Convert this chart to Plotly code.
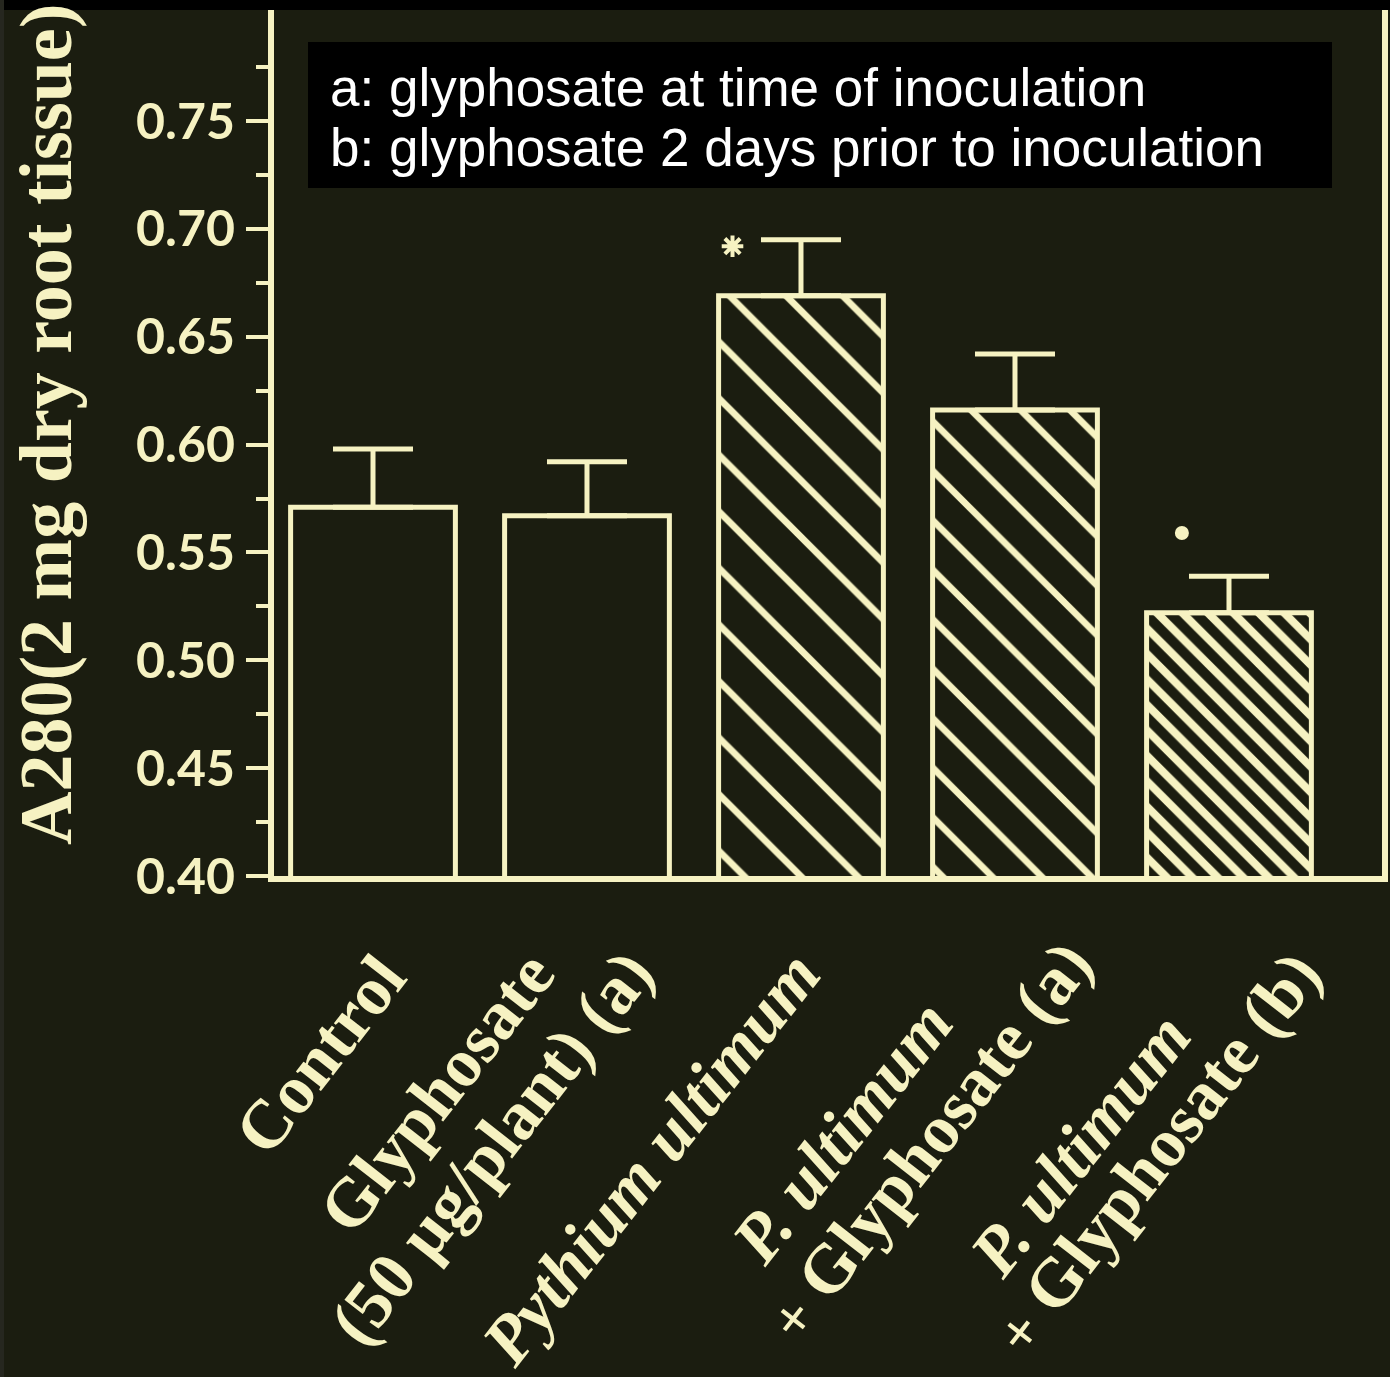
import numpy as np
import plotly.graph_objects as go

# Root exudate absorbance per treatment (mean and upper error)
categories = [
    "Control",
    "Glyphosate\n(50 µg/plant) (a)",
    "Pythium ultimum",
    "P. ultimum\n+ Glyphosate (a)",
    "P. ultimum\n+ Glyphosate (b)",
]
means = [0.571, 0.567, 0.669, 0.616, 0.522]
errors = [0.027, 0.025, 0.026, 0.026, 0.017]
hatches = ["", "", "\\", "\\", "\\"]
y_ticks = [0.40, 0.45, 0.50, 0.55, 0.60, 0.65, 0.70, 0.75]
legend_lines = [
    "a: glyphosate at time of inoculation",
    "b: glyphosate 2 days prior to inoculation",
]
star_bar = 2    # bar marked with an asterisk
dot_bar = 4     # bar marked with a dot

BG = "#1b1d10"
CREAM = "#f6f2c2"
SERIF = "Liberation Serif, Times New Roman, serif"

W, H = 1390, 1377
L, R, T, B = 274, 8, 10, 501
PW, PH = W - L - R, H - T - B

def px_x(p):
    return (p - L) / PW

def px_y(p):
    return (H - B - p) / PH

x = list(range(len(categories)))

# hatch density per bar
pattern_sizes = [8, 8, 40, 35, 18]
pattern_solid = [0.3, 0.3, 0.17, 0.19, 0.44]

fig = go.Figure()
for i in x:
    pat = dict(shape=hatches[i], fgcolor=CREAM, bgcolor=BG,
               size=pattern_sizes[i], solidity=pattern_solid[i],
               fillmode="replace")
    fig.add_trace(go.Bar(
        x=[i], y=[means[i]], width=0.77,
        marker=dict(color=BG, line=dict(color=CREAM, width=5), pattern=pat),
        error_y=dict(type="data", symmetric=False, array=[errors[i]],
                     arrayminus=[0], color=CREAM, thickness=5, width=40),
        showlegend=False,
    ))

# significance markers
fig.add_trace(go.Scatter(
    x=[star_bar - 0.32], y=[means[star_bar] + errors[star_bar] - 0.003],
    mode="markers",
    marker=dict(symbol="asterisk-open", size=18, color=CREAM,
                line=dict(color=CREAM, width=4)),
    showlegend=False, cliponaxis=False,
))
fig.add_trace(go.Scatter(
    x=[dot_bar - 0.22], y=[means[dot_bar] + errors[dot_bar] + 0.020],
    mode="markers",
    marker=dict(symbol="circle", size=14, color=CREAM),
    showlegend=False, cliponaxis=False,
))

# rotated category labels under the axis, one annotation per text line
# (offsets in px from the bar centre / axis line to each line's centre)
line_offsets = [
    [(-53, 179)],
    [(-150, 216), (-95, 271)],
    [(-150, 282)],
    [(-173, 256), (-86, 264)],
    [(-149, 269), (-72, 276)],
]
annotations = []
for i, lab in enumerate(categories):
    for line, (dx, dy) in zip(lab.split("\n"), line_offsets[i]):
        italic = "ultimum" in line
        if line.startswith("+ "):
            line = "<span style='font-size:60px'>+</span> " + line[2:]
        annotations.append(dict(
            x=i, y=0, xref="x", yref="paper", text=line, showarrow=False,
            xanchor="center", yanchor="middle", textangle=-52,
            xshift=dx, yshift=-dy,
            font=dict(family=SERIF, size=69, color=CREAM, weight="bold",
                      style="italic" if italic else "normal"),
        ))

# y-axis title
annotations.append(dict(
    x=px_x(46), y=px_y(425), xref="paper", yref="paper",
    text="A280(2 mg dry root tissue)", showarrow=False, textangle=-90,
    xanchor="center", yanchor="middle",
    font=dict(family=SERIF, size=74, color=CREAM, weight="bold"),
))

# key text in the black box
for j, line in enumerate(legend_lines):
    annotations.append(dict(
        x=px_x(328), y=px_y(87 + 60 * j), xref="paper", yref="paper",
        text=line, showarrow=False, xanchor="left", yanchor="middle",
        font=dict(family="Liberation Sans, Arial, sans-serif", size=53,
                  color="#ffffff"),
    ))

shapes = [
    dict(type="rect", xref="paper", yref="paper",
         x0=px_x(308), x1=px_x(1332), y0=px_y(188), y1=px_y(42),
         fillcolor="#000000", line=dict(width=0), layer="above"),
    dict(type="rect", xref="paper", yref="paper",
         x0=px_x(-5), x1=px_x(W + 5), y0=px_y(10), y1=px_y(-5),
         fillcolor="#000000", line=dict(width=0), layer="above"),
    dict(type="rect", xref="paper", yref="paper",
         x0=px_x(-5), x1=px_x(4), y0=px_y(H + 5), y1=px_y(-5),
         fillcolor="#26271f", line=dict(width=0), layer="above"),
]

fig.update_layout(
    width=W, height=H,
    margin=dict(l=L, r=R, t=T, b=B, autoexpand=False),
    paper_bgcolor=BG, plot_bgcolor=BG,
    annotations=annotations,
    shapes=shapes,
    xaxis=dict(
        range=[-0.4626, 4.715], showgrid=False, zeroline=False,
        showticklabels=False, ticks="", showline=True, linecolor=CREAM,
        linewidth=6, automargin=False,
    ),
    yaxis=dict(
        range=[0.40, 0.8015], showgrid=False, zeroline=False,
        showline=True, linecolor=CREAM, linewidth=6, mirror=True,
        tickvals=y_ticks, ticktext=[f"{v:.2f}" for v in y_ticks],
        ticks="outside", ticklen=22, tickwidth=4, tickcolor=CREAM,
        ticklabelstandoff=1,
        tickfont=dict(family="Lato, Open Sans, sans-serif", size=50,
                      color=CREAM, weight="bold"),
        minor=dict(tickvals=list(np.round(np.arange(0.425, 0.80, 0.05), 3)),
                   ticks="outside", ticklen=12, tickwidth=4,
                   tickcolor=CREAM),
        automargin=False,
    ),
)

fig.write_html("out.html")
